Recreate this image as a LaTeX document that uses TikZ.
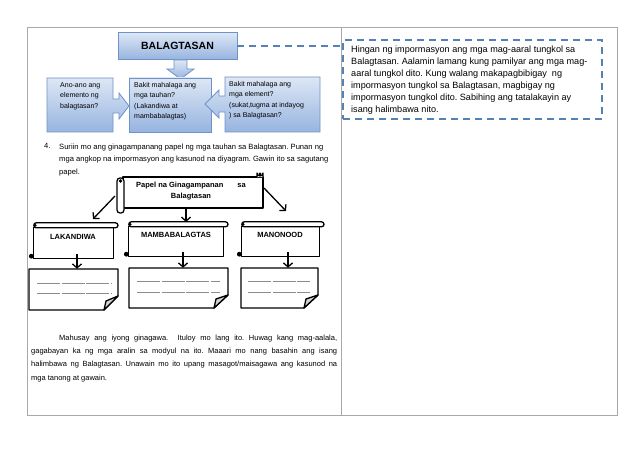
\documentclass[tikz,border=0pt]{standalone}
\usepackage{fontspec}
\setmainfont{Liberation Sans}
\usetikzlibrary{arrows.meta}
\frenchspacing
\definecolor{boxtop}{HTML}{DDE7F5}
\definecolor{boxbot}{HTML}{97B4E0}
\definecolor{boxline}{HTML}{6F93C6}
\definecolor{dashblue}{HTML}{5581B5}
\definecolor{tablegray}{HTML}{A8A8A8}
\definecolor{ulgray}{HTML}{8C8C8C}
\begin{document}
\begin{tikzpicture}[x=1pt,y=-1pt,
  bluebox/.style={draw=boxline, line width=0.8pt, top color=boxtop, bottom color=boxbot},
  smalltxt/.style={font=\fontsize{7}{10.5}\selectfont, align=left, inner sep=0pt},
  scrollline/.style={draw=black, line width=1.3pt, line join=round},
  scrolllabel/.style={font=\bfseries\fontsize{7.5}{9}\selectfont, inner sep=0pt},
  arr/.style={draw=black, line width=1.3pt, -{Straight Barb[length=4pt,width=9pt,line width=1.3pt]}},
  ulines/.style={draw=ulgray, line width=0.6pt, dash pattern=on 23pt off 1.5pt},
  fold/.style={draw=black, line width=1.3pt, line join=round, fill=white}]
\useasboundingbox (0,0) rectangle (638,452);
\fill[white] (0,0) rectangle (638,452);
% table
\draw[tablegray, line width=0.8pt] (27,27) rectangle (617,415);
\draw[tablegray, line width=0.8pt] (341,27) -- (341,415);

% top flow
\node[bluebox, minimum width=119pt, minimum height=27pt, font=\bfseries\fontsize{10.5}{12}\selectfont] (bal) at (177.5,46) {BALAGTASAN};
\draw[bluebox] (174,60) -- (187,60) -- (187,69) -- (194,69) -- (180.5,79) -- (167,69) -- (174,69) -- cycle;
\node[bluebox, minimum width=82pt, minimum height=54pt] (mid) at (170,105) {};
\draw[bluebox] (47,78) -- (113,78) -- (113,99) -- (119,99) -- (119,93) -- (129,106) -- (119,119) -- (119,113) -- (113,113) -- (113,132) -- (47,132) -- cycle;
\draw[bluebox] (320,77) -- (225,77) -- (225,96) -- (219,96) -- (219,90) -- (205,104) -- (219,118) -- (219,112) -- (225,112) -- (225,132) -- (320,132) -- cycle;
\node[smalltxt, anchor=north west] (qa) at (60,82) {Ano-ano ang\\elemento ng\\balagtasan?};
\node[smalltxt, anchor=north west] (qb) at (134,82) {Bakit mahalaga ang\\mga tauhan?\\(Lakandiwa at\\mambabalagtas)};
\node[smalltxt, anchor=north west] (qc) at (229,81) {Bakit mahalaga ang\\mga element?\\(sukat,tugma at indayog\\) sa Balagtasan?};

% dashed note
\node[draw=dashblue, line width=1.3pt, dash pattern=on 7pt off 5pt, minimum width=259pt, minimum height=79pt] (dbox) at (472.5,79.5) {};
\draw[dashblue, line width=1.3pt, dash pattern=on 7pt off 5pt] (bal.east) -- (bal.east -| dbox.west);
\node[anchor=north west, inner sep=0pt, align=left, font=\fontsize{9.1}{12}\selectfont] (dtxt) at (351,45.5) {Hingan ng impormasyon ang mga mag-aaral tungkol sa\\Balagtasan. Aalamin lamang kung pamilyar ang mga mag-\\aaral tungkol dito. Kung walang makapagbibigay\ \ ng\\impormasyon tungkol sa Balagtasan, magbigay ng\\impormasyon tungkol dito. Sabihing ang tatalakayin ay\\isang halimbawa nito.};

% item 4
\node[anchor=north west, inner sep=0pt, font=\fontsize{7.6}{12.5}\selectfont] (num) at (44,143.5) {4.};
\node[anchor=north west, inner sep=0pt, align=left, font=\fontsize{7.6}{12.5}\selectfont] (item) at (59,143.5) {Suriin mo ang ginagampanang papel ng mga tauhan sa Balagtasan. Punan ng\\mga angkop na impormasyon ang kasunod na diyagram. Gawin ito sa sagutang\\papel.};

% big horizontal scroll
\node[minimum width=141pt, minimum height=31pt, inner sep=0pt] (big) at (192.5,192.5) {};
\draw[scrollline, fill=white] (123,177) rectangle (263,208);
\draw[scrollline, fill=white, rounded corners=3pt] (117,178) rectangle (124,213);
\fill (120.5,181) circle (1.8pt);
\draw[scrollline, fill=white] (257,177) -- (257,173) arc (180:0:3) -- (263,177);
\fill (260,174) circle (1.6pt);
\node[font=\bfseries\fontsize{7.5}{11.5}\selectfont, align=center, inner sep=0pt] (bigtxt) at (191,191) {Papel na Ginagampanan\hspace{12pt} sa\\Balagtasan};

% lower scrolls
\node[minimum width=79pt, minimum height=30pt, inner sep=0pt] (lakb) at (73.5,243) {};
\node[minimum width=94pt, minimum height=29pt, inner sep=0pt] (mamb) at (176,241.5) {};
\node[minimum width=77pt, minimum height=29pt, inner sep=0pt] (manb) at (280.5,241.5) {};
\foreach \n/\r in {lakb/118, mamb/228, manb/324}{
  \draw[scrollline, fill=white] (\n.north west) rectangle (\n.south east);
  \draw[scrollline, fill=white, rounded corners=2.5pt] (\n.north west) rectangle ([yshift=5pt]\n.north west -| \r,0);
}
\foreach \n in {lakb, mamb, manb}{
  \fill (\n.south west) ++(-2.5,-2) circle (2.4pt);
  \fill (\n.north west) ++(1.5,-2.5) circle (1.4pt);
}
\node[scrolllabel] (lakt) at (73,237) {LAKANDIWA};
\node[scrolllabel] (mamt) at (176,235) {MAMBABALAGTAS};
\node[scrolllabel] (mant) at (280,235) {MANONOOD};

% notes
\node[minimum width=89pt, minimum height=41pt, inner sep=0pt] (lakn) at (73.5,289.5) {};
\node[minimum width=99pt, minimum height=40pt, inner sep=0pt] (mamn) at (178.5,288) {};
\node[minimum width=77pt, minimum height=40pt, inner sep=0pt] (mann) at (279.5,288) {};
\draw[fold] (29,269) -- (118,269) -- (118,296) -- (104,310) -- (29,310) -- cycle;
\draw[fold, fill=gray!35] (104,310) -- (106,301) -- (118,296) -- cycle;
\draw[fold] (129,268) -- (228,268) -- (228,295) -- (214,308) -- (129,308) -- cycle;
\draw[fold, fill=gray!35] (214,308) -- (216,299) -- (228,295) -- cycle;
\draw[fold] (241,268) -- (318,268) -- (318,295) -- (304,308) -- (241,308) -- cycle;
\draw[fold, fill=gray!35] (304,308) -- (306,299) -- (318,295) -- cycle;
\draw[ulines] (37,283) -- (111,283);
\draw[ulines] (37,293) -- (111,293);
\draw[ulines] (137,281) -- (220,281);
\draw[ulines] (137,292) -- (220,292);
\draw[ulines] (248,281) -- (310,281);
\draw[ulines] (248,292) -- (310,292);

% arrows
\coordinate (lt) at (93,219);
\coordinate (rt) at (286,211);
\draw[arr] (115,196) -- (lt);
\draw[arr] (big.south -| 186,0) -- (186,222);
\draw[arr] (264,188) -- (rt);
\draw[arr] (lakb.south -| 77,0) ++(0,-4) -- (lakn.north -| 77,0);
\draw[arr] (mamb.south -| 183,0) ++(0,-4) -- (mamn.north -| 183,0);
\draw[arr] (manb.south -| 288,0) ++(0,-4) -- (mann.north -| 288,0);

% paragraph
\node[anchor=north west, inner sep=0pt, text width=306pt, align=justify, font=\fontsize{7.5}{13.3}\selectfont] (para) at (31,334.5) {\hspace*{28pt}Mahusay ang iyong ginagawa.\ \ Ituloy mo lang ito. Huwag kang mag-aalala,\linebreak gagabayan ka ng mga aralin sa modyul na ito. Maaari mo nang basahin ang isang\linebreak halimbawa ng Balagtasan. Unawain mo ito upang masagot/maisagawa ang kasunod na\linebreak mga tanong at gawain.};
\end{tikzpicture}
\end{document}
